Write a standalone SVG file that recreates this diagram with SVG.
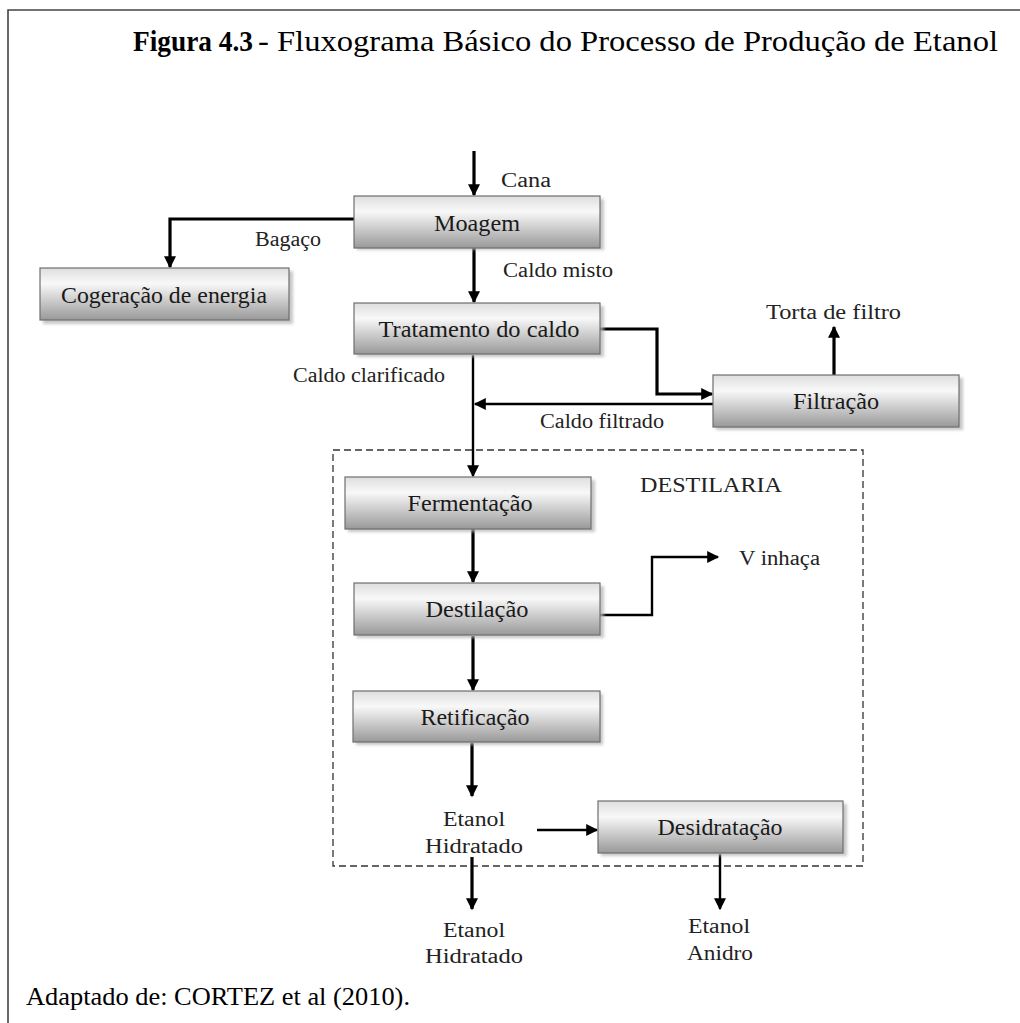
<svg xmlns="http://www.w3.org/2000/svg" width="1020" height="1023" viewBox="0 0 1020 1023">
<style>
.box{stroke:#6e6e6e;stroke-width:1.2;fill:url(#g)}
.sh{fill:#b5b5b5;opacity:0.75}
.bt{font-family:"Liberation Serif","Times New Roman",serif;font-size:23px;fill:#1a1a1a;text-anchor:middle}
.lb{font-family:"Liberation Serif","Times New Roman",serif;font-size:20px;fill:#222}
.lc{text-anchor:middle}
.tt{font-family:"Liberation Serif","Times New Roman",serif;font-size:29px;fill:#000}
.w3{stroke:#000;stroke-width:3.2;fill:none}
.w2{stroke:#000;stroke-width:2.4;fill:none}
</style>
<defs>
<linearGradient id="g" x1="0" y1="0" x2="0" y2="1">
<stop offset="0" stop-color="#dedede"/>
<stop offset="0.3" stop-color="#f8f8f8"/>
<stop offset="1" stop-color="#999"/>
</linearGradient>
<filter id="blur" x="-10%" y="-20%" width="120%" height="150%"><feGaussianBlur stdDeviation="1.5"/></filter>
<marker id="a" viewBox="0 0 10 10" refX="9" refY="5" markerWidth="13" markerHeight="12" markerUnits="userSpaceOnUse" orient="auto"><path d="M0,0 L10,5 L0,10 z" fill="#000"/></marker>
</defs>
<rect width="1020" height="1023" fill="#fff"/>
<path d="M8,1023 V10 H1020" stroke="#444" stroke-width="1.6" fill="none"/>
<g id="title">
<text class="tt" x="133" y="51" font-weight="bold" textLength="120" lengthAdjust="spacingAndGlyphs">Figura 4.3</text>
<text class="tt" x="258" y="51" textLength="740" lengthAdjust="spacingAndGlyphs">- Fluxograma Básico do Processo de Produção de Etanol</text>
</g>

<rect x="333" y="450" width="530" height="416" fill="none" stroke="#333" stroke-width="1.3" stroke-dasharray="7,4"/>
<text class="lb" x="640" y="492" textLength="142" lengthAdjust="spacingAndGlyphs">DESTILARIA</text>

<g id="connectors">
<path class="w3" d="M474,151 V195" marker-end="url(#a)"/>
<path class="w3" d="M354,219 H170 V267" marker-end="url(#a)"/>
<path class="w3" d="M474,248 V302" marker-end="url(#a)"/>
<path class="w3" d="M600,329 H657 V394 H712" marker-end="url(#a)"/>
<path class="w3" d="M834,375 V327" marker-end="url(#a)"/>
<path class="w2" d="M713,404 H475" marker-end="url(#a)"/>
<path class="w2" d="M473,355 V476" marker-end="url(#a)"/>
<path class="w3" d="M473,529 V582" marker-end="url(#a)"/>
<path class="w2" d="M600,615 H652 V557 H718" marker-end="url(#a)"/>
<path class="w3" d="M473,636 V690" marker-end="url(#a)"/>
<path class="w3" d="M472,743 V796" marker-end="url(#a)"/>
<path class="w2" d="M537,830 H597" marker-end="url(#a)"/>
<path class="w3" d="M472,857 V909" marker-end="url(#a)"/>
<path class="w2" d="M720,854 V909" marker-end="url(#a)"/>
</g>

<g id="moagem">
<rect class="sh" x="357" y="199" width="247" height="51" filter="url(#blur)"/>
<rect class="box" x="354" y="196" width="246" height="52"/>
<text class="bt" x="477" y="231" textLength="86" lengthAdjust="spacingAndGlyphs">Moagem</text>
</g>
<g id="cogeracao">
<rect class="sh" x="43" y="271" width="250" height="53" filter="url(#blur)"/>
<rect class="box" x="40" y="268" width="249" height="52"/>
<text class="bt" x="164" y="303" textLength="206" lengthAdjust="spacingAndGlyphs">Cogeração de energia</text>
</g>
<g id="tratamento">
<rect class="sh" x="357" y="306" width="247" height="51" filter="url(#blur)"/>
<rect class="box" x="354" y="303" width="246" height="51"/>
<text class="bt" x="479" y="337" textLength="201" lengthAdjust="spacingAndGlyphs">Tratamento do caldo</text>
</g>
<g id="filtracao">
<rect class="sh" x="716" y="378" width="247" height="52" filter="url(#blur)"/>
<rect class="box" x="713" y="375" width="246" height="52"/>
<text class="bt" x="836" y="409" textLength="86" lengthAdjust="spacingAndGlyphs">Filtração</text>
</g>
<g id="fermentacao">
<rect class="sh" x="348" y="480" width="247" height="52" filter="url(#blur)"/>
<rect class="box" x="345" y="477" width="246" height="52"/>
<text class="bt" x="470" y="511" textLength="125" lengthAdjust="spacingAndGlyphs">Fermentação</text>
</g>
<g id="destilacao">
<rect class="sh" x="357" y="586" width="247" height="52" filter="url(#blur)"/>
<rect class="box" x="354" y="583" width="246" height="52"/>
<text class="bt" x="477" y="617" textLength="103" lengthAdjust="spacingAndGlyphs">Destilação</text>
</g>
<g id="retificacao">
<rect class="sh" x="356" y="694" width="247" height="51" filter="url(#blur)"/>
<rect class="box" x="353" y="691" width="247" height="51"/>
<text class="bt" x="475" y="725" textLength="109" lengthAdjust="spacingAndGlyphs">Retificação</text>
</g>
<g id="desidratacao">
<rect class="sh" x="601" y="804" width="246" height="52" filter="url(#blur)"/>
<rect class="box" x="598" y="801" width="245" height="52"/>
<text class="bt" x="720" y="835" textLength="125" lengthAdjust="spacingAndGlyphs">Desidratação</text>
</g>

<g id="labels">
<text class="lb" x="501" y="187" textLength="50" lengthAdjust="spacingAndGlyphs">Cana</text>
<text class="lb" x="255" y="246" textLength="66" lengthAdjust="spacingAndGlyphs">Bagaço</text>
<text class="lb" x="503" y="277" textLength="110" lengthAdjust="spacingAndGlyphs">Caldo misto</text>
<text class="lb" x="766" y="319" textLength="135" lengthAdjust="spacingAndGlyphs">Torta de filtro</text>
<text class="lb" x="293" y="382" textLength="152" lengthAdjust="spacingAndGlyphs">Caldo clarificado</text>
<text class="lb" x="540" y="428" textLength="124" lengthAdjust="spacingAndGlyphs">Caldo filtrado</text>
<text class="lb" x="739" y="565" textLength="81" lengthAdjust="spacingAndGlyphs">V inhaça</text>
<text class="lb lc" x="474" y="826" textLength="62" lengthAdjust="spacingAndGlyphs">Etanol</text>
<text class="lb lc" x="474" y="853" textLength="98" lengthAdjust="spacingAndGlyphs">Hidratado</text>
<text class="lb lc" x="474" y="937" textLength="62" lengthAdjust="spacingAndGlyphs">Etanol</text>
<text class="lb lc" x="474" y="963" textLength="98" lengthAdjust="spacingAndGlyphs">Hidratado</text>
<text class="lb lc" x="719" y="933" textLength="62" lengthAdjust="spacingAndGlyphs">Etanol</text>
<text class="lb lc" x="720" y="960" textLength="66" lengthAdjust="spacingAndGlyphs">Anidro</text>
</g>
<text x="26" y="1005" font-family="Liberation Serif,'Times New Roman',serif" font-size="25" fill="#000" textLength="384" lengthAdjust="spacingAndGlyphs">Adaptado de: CORTEZ et al (2010).</text>
</svg>
